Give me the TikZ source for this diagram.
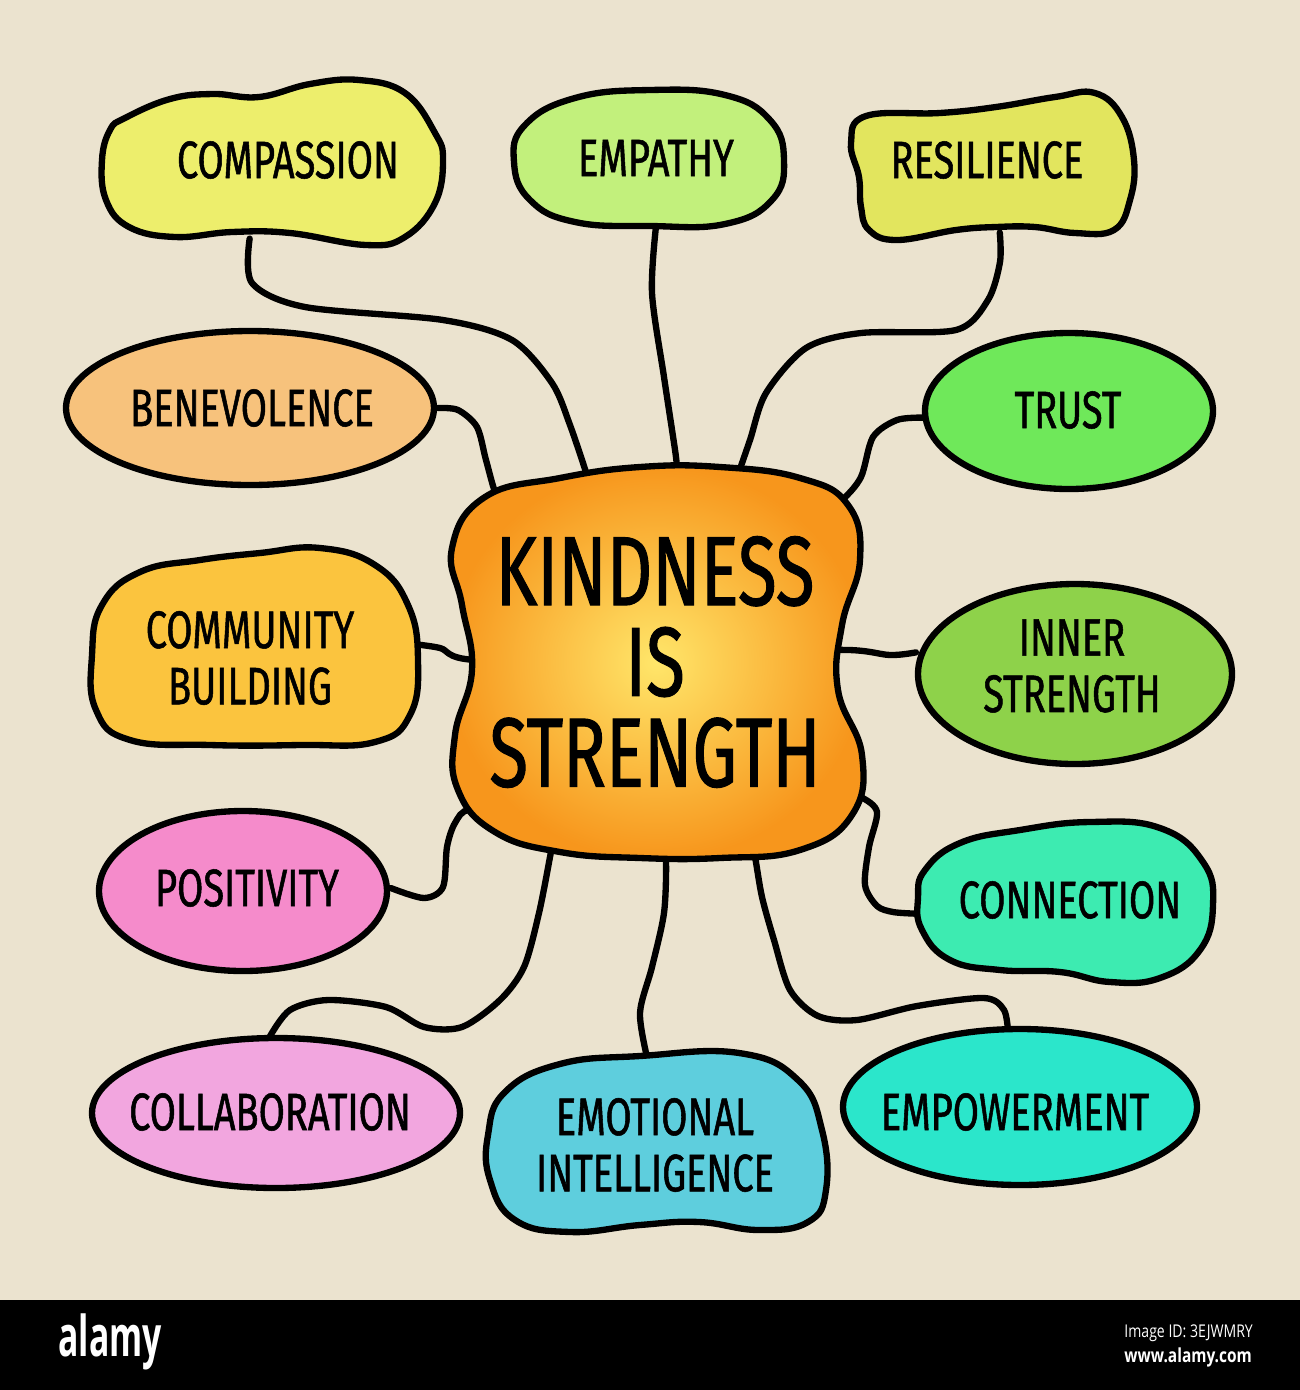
\documentclass[tikz,border=0pt]{standalone}
\usepackage{fontspec}
\newfontfamily\hand{Fira Sans}[FakeStretch=0.72, FakeBold=1]
\newfontfamily\stockfont{Open Sans}[FakeStretch=0.8]
\newfontfamily\brandfont{Open Sans}[FakeStretch=0.6]
\usetikzlibrary{shapes.geometric}
\pgfdeclarelayer{paper}
\pgfdeclarelayer{background}
\pgfsetlayers{paper,background,main}

\definecolor{paperc}{HTML}{EBE3CF}
\definecolor{compc}{HTML}{EDEE6C}
\definecolor{empc}{HTML}{C2F07C}
\definecolor{resc}{HTML}{E2E55E}
\definecolor{benc}{HTML}{F7C27C}
\definecolor{trustc}{HTML}{6FE85A}
\definecolor{commc}{HTML}{FBC43E}
\definecolor{innerc}{HTML}{8ED24A}
\definecolor{posc}{HTML}{F58BCB}
\definecolor{connc}{HTML}{3DEBB1}
\definecolor{collc}{HTML}{F2A6DF}
\definecolor{emoc}{HTML}{5ECEDD}
\definecolor{empwc}{HTML}{2BE6CB}
\definecolor{kindin}{HTML}{FFE66A}
\definecolor{kindout}{HTML}{F7961C}

\begin{document}
\begin{tikzpicture}[
    x=0.01cm, y=-0.01cm,
    %
    topic/.style={ellipse, inner sep=0pt, align=center,
                  font=\hand\fontsize{15}{16}\selectfont},
    hub/.style={ellipse, inner sep=0pt, align=center,
                font=\hand\fontsize{28}{25.8}\selectfont},
    blob/.style={draw=black, line width=1.8pt, line join=round},
    link/.style={draw=black, line width=1.8pt, line cap=round},
    ]
    \useasboundingbox (0,0) rectangle (1300,1390);
    \begin{pgfonlayer}{paper}
        \fill[paperc] (0,0) rectangle (1300,1300);
        \fill[black] (0,1300) rectangle (1300,1390);
    \end{pgfonlayer}

    % nodes
    \node[hub]   (kind)  at (655,662)  [minimum width=4.15cm, minimum height=3.9cm] {KINDNESS\\IS\\STRENGTH};
    \node[topic] (comp)  at (288,160)  [minimum width=3.35cm, minimum height=1.6cm]  {COMPASSION};
    \node[topic] (emp)   at (656,158)  [minimum width=2.7cm,  minimum height=1.35cm] {EMPATHY};
    \node[topic] (res)   at (987,160)  [minimum width=2.9cm,  minimum height=1.44cm] {RESILIENCE};
    \node[topic] (ben)   at (252,408)  [minimum width=3.7cm,  minimum height=1.56cm] {BENEVOLENCE};
    \node[topic] (trust) at (1068,410) [minimum width=2.9cm,  minimum height=1.58cm] {TRUST};
    \node[topic] (comm)  at (250,658)  [minimum width=3.24cm, minimum height=2cm]    {COMMUNITY\\BUILDING};
    \node[topic] (inner) at (1072,666) [minimum width=3.14cm, minimum height=1.82cm] {INNER\\STRENGTH};
    \node[topic] (pos)   at (247,888)  [minimum width=2.86cm, minimum height=1.62cm] {POSITIVITY};
    \node[topic] (conn)  at (1070,900) [minimum width=2.96cm, minimum height=1.5cm]  {CONNECTION};
    \node[topic] (coll)  at (270,1112) [minimum width=3.68cm, minimum height=1.5cm]  {COLLABORATION};
    \node[topic] (emo)   at (655,1145) [minimum width=3.44cm, minimum height=1.7cm]  {EMOTIONAL\\INTELLIGENCE};
    \node[topic] (empw)  at (1015,1112)[minimum width=3.52cm, minimum height=1.54cm] {EMPOWERMENT};

    \begin{pgfonlayer}{background}
        % connectors
        \draw[link] plot[smooth] coordinates {(comp.-116) (252,283) (305,307) (443,320) (512,340) (552,383) (570,425) (kind.110)};
        \draw[link] plot[smooth] coordinates {(ben.east) (458,410) (477,427) (486,460) (497,497) (kind.133)};
        \draw[link] plot[smooth] coordinates {(emp.-90) (652,293) (664,377) (676,457) (kind.84)};
        \draw[link] plot[smooth] coordinates {(res.-80) (1000,262) (988,300) (956,330) (861,333) (806,348) (766,393) (750,440) (kind.66)};
        \draw[link] plot[smooth] coordinates {(trust.183) (897,420) (873,437) (861,477) (842,500) (kind.42)};
        \draw[link] plot[smooth] coordinates {(comm.5) (440,648) (475,660) (kind.center)};
        \draw[link] plot[smooth] coordinates {(inner.175) (890,655) (835,650) (kind.center)};
        \draw[link] plot[smooth] coordinates {(pos.east) (424,898) (443,887) (447,847) (455,823) (470,810) (kind.-130)};
        \draw[link] plot[smooth] coordinates {(conn.185) (893,912) (877,906) (865,885) (869,847) (877,812) (861,797) (kind.-35)};
        \draw[link] plot[smooth] coordinates {(coll.north) (290,1010) (328,1000) (386,1007) (424,1027) (462,1027) (500,1000) (524,967) (539,913) (550,857) (kind.-120)};
        \draw[link] plot[smooth] coordinates {(emo.95) (640,1013) (652,967) (664,913) (666,862) (kind.-88)};
        \draw[link] plot[smooth] coordinates {(empw.95) (1004,1010) (984,998) (917,1006) (857,1020) (818,1016) (790,990) (774,940) (762,897) (755,857) (kind.-62)};

        % blobs
        \path[blob, inner color=kindin, outer color=kindout] plot[smooth cycle, tension=0.75] coordinates {
            (485,497) (560,478) (640,467) (720,467) (800,478) (848,505) (860,560) (842,625)
            (838,690) (862,755) (852,815) (800,850) (720,858) (640,858) (560,852) (495,832)
            (458,790) (455,735) (472,670) (462,605) (452,548)};
        \draw[blob, fill=compc] plot[smooth cycle, tension=0.7] coordinates {
            (125,118) (170,99) (213,94) (259,97) (310,84) (359,80) (405,93) (435,133) (443,160)
            (435,203) (405,237) (366,245) (290,233) (232,232) (175,237) (129,227) (106,200) (102,160) (110,130)};
        \draw[blob, fill=empc] plot[smooth cycle, tension=0.75] coordinates {
            (525,125) (575,98) (650,90) (725,95) (770,120) (784,160) (772,200) (725,224)
            (650,226) (575,222) (530,200) (514,162)};
        \draw[blob, fill=resc] plot[smooth cycle, tension=0.7] coordinates {
            (866,116) (940,113) (996,107) (1055,97) (1095,93) (1122,117) (1134,160)
            (1130,200) (1114,230) (1075,233) (1035,227) (996,227) (956,230) (897,240) (869,230)
            (861,207) (859,177) (851,143)};
        \draw[blob, fill=benc] (250,408) ellipse [x radius=184, y radius=77];
        \draw[blob, fill=trustc] (1069,411) ellipse [x radius=144, y radius=78];
        \draw[blob, fill=commc] plot[smooth cycle, tension=0.75] coordinates {
            (102,605) (140,572) (200,560) (260,553) (320,548) (375,565) (408,605) (418,660)
            (410,715) (375,742) (300,745) (210,745) (130,740) (96,710) (92,655)};
        \draw[blob, fill=innerc] (1075,674) ellipse [x radius=157, y radius=90];
        \draw[blob, fill=posc] (243,891) ellipse [x radius=144, y radius=80];
        \draw[blob, fill=connc] plot[smooth cycle, tension=0.75] coordinates {
            (925,870) (960,843) (1020,830) (1090,822) (1160,828) (1203,862) (1213,905)
            (1200,950) (1160,978) (1110,982) (1060,972) (1000,970) (950,960) (922,930) (918,898)};
        \draw[blob, fill=collc] (276,1113) ellipse [x radius=184, y radius=75];
        \draw[blob, fill=emoc] plot[smooth cycle, tension=0.75] coordinates {
            (505,1092) (560,1064) (640,1056) (739,1053) (798,1080) (822,1130) (826,1190)
            (808,1222) (759,1230) (699,1222) (640,1225) (570,1232) (515,1220) (490,1180) (488,1135)};
        \draw[blob, fill=empwc] (1020,1107) ellipse [x radius=177, y radius=78];
    \end{pgfonlayer}

    % stock footer
    \node[text=white, font=\brandfont\bfseries\fontsize{16}{16}\selectfont, anchor=west] (brand) at (46,1342) {alamy};
    \node[text=white, font=\stockfont\fontsize{5}{6}\selectfont, anchor=west] (imgid) at (1112,1333) {Image ID: 3EJWMRY};
    \node[text=white, font=\stockfont\bfseries\fontsize{5.5}{6}\selectfont, anchor=west] (site) at (1112,1357) {www.alamy.com};

\end{tikzpicture}
\end{document}
